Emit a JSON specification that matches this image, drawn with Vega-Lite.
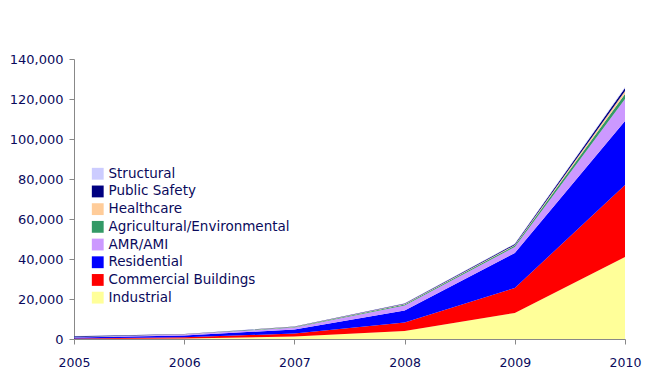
{
  "$schema": "https://vega.github.io/schema/vega-lite/v6.json",
  "width": 551,
  "height": 280,
  "autosize": {"type": "none"},
  "padding": {"left": 74, "top": 59, "right": 32, "bottom": 48},
  "background": "white",
  "config": {
    "view": {"stroke": null},
    "font": "DejaVu Sans"
  },
  "data": {
    "values": [
      {"year": 2005, "segment": "Industrial", "k": 1, "units": 0},
      {"year": 2005, "segment": "Commercial Buildings", "k": 2, "units": 300},
      {"year": 2005, "segment": "Residential", "k": 3, "units": 500},
      {"year": 2005, "segment": "AMR/AMI", "k": 4, "units": 100},
      {"year": 2005, "segment": "Agricultural/Environmental", "k": 5, "units": 50},
      {"year": 2005, "segment": "Healthcare", "k": 6, "units": 50},
      {"year": 2005, "segment": "Public Safety", "k": 7, "units": 400},
      {"year": 2005, "segment": "Structural", "k": 8, "units": 50},
      {"year": 2006, "segment": "Industrial", "k": 1, "units": 200},
      {"year": 2006, "segment": "Commercial Buildings", "k": 2, "units": 700},
      {"year": 2006, "segment": "Residential", "k": 3, "units": 900},
      {"year": 2006, "segment": "AMR/AMI", "k": 4, "units": 400},
      {"year": 2006, "segment": "Agricultural/Environmental", "k": 5, "units": 100},
      {"year": 2006, "segment": "Healthcare", "k": 6, "units": 50},
      {"year": 2006, "segment": "Public Safety", "k": 7, "units": 150},
      {"year": 2006, "segment": "Structural", "k": 8, "units": 50},
      {"year": 2007, "segment": "Industrial", "k": 1, "units": 1200},
      {"year": 2007, "segment": "Commercial Buildings", "k": 2, "units": 1500},
      {"year": 2007, "segment": "Residential", "k": 3, "units": 2000},
      {"year": 2007, "segment": "AMR/AMI", "k": 4, "units": 1000},
      {"year": 2007, "segment": "Agricultural/Environmental", "k": 5, "units": 300},
      {"year": 2007, "segment": "Healthcare", "k": 6, "units": 100},
      {"year": 2007, "segment": "Public Safety", "k": 7, "units": 100},
      {"year": 2007, "segment": "Structural", "k": 8, "units": 100},
      {"year": 2008, "segment": "Industrial", "k": 1, "units": 4000},
      {"year": 2008, "segment": "Commercial Buildings", "k": 2, "units": 4300},
      {"year": 2008, "segment": "Residential", "k": 3, "units": 6000},
      {"year": 2008, "segment": "AMR/AMI", "k": 4, "units": 2500},
      {"year": 2008, "segment": "Agricultural/Environmental", "k": 5, "units": 400},
      {"year": 2008, "segment": "Healthcare", "k": 6, "units": 300},
      {"year": 2008, "segment": "Public Safety", "k": 7, "units": 200},
      {"year": 2008, "segment": "Structural", "k": 8, "units": 200},
      {"year": 2009, "segment": "Industrial", "k": 1, "units": 13000},
      {"year": 2009, "segment": "Commercial Buildings", "k": 2, "units": 12500},
      {"year": 2009, "segment": "Residential", "k": 3, "units": 17500},
      {"year": 2009, "segment": "AMR/AMI", "k": 4, "units": 3000},
      {"year": 2009, "segment": "Agricultural/Environmental", "k": 5, "units": 700},
      {"year": 2009, "segment": "Healthcare", "k": 6, "units": 300},
      {"year": 2009, "segment": "Public Safety", "k": 7, "units": 500},
      {"year": 2009, "segment": "Structural", "k": 8, "units": 200},
      {"year": 2010, "segment": "Industrial", "k": 1, "units": 41000},
      {"year": 2010, "segment": "Commercial Buildings", "k": 2, "units": 36000},
      {"year": 2010, "segment": "Residential", "k": 3, "units": 32000},
      {"year": 2010, "segment": "AMR/AMI", "k": 4, "units": 11000},
      {"year": 2010, "segment": "Agricultural/Environmental", "k": 5, "units": 2500},
      {"year": 2010, "segment": "Healthcare", "k": 6, "units": 1500},
      {"year": 2010, "segment": "Public Safety", "k": 7, "units": 1500},
      {"year": 2010, "segment": "Structural", "k": 8, "units": 500}
    ]
  },
  "mark": {"type": "area", "interpolate": "linear"},
  "encoding": {
    "x": {
      "field": "year",
      "type": "quantitative",
      "scale": {"domain": [2005, 2010], "nice": false, "zero": false},
      "axis": {
        "title": null,
        "values": [2005, 2006, 2007, 2008, 2009, 2010],
        "format": "d",
        "grid": false,
        "domainColor": "#888888",
        "tickColor": "#888888",
        "tickSize": 5,
        "labelFont": "DejaVu Sans",
        "labelFontSize": 12.5,
        "labelColor": "#0a0a5c",
        "labelPadding": 12,
        "labelFlush": false
      }
    },
    "y": {
      "field": "units",
      "type": "quantitative",
      "stack": "zero",
      "scale": {"domain": [0, 140000], "nice": false},
      "axis": {
        "title": null,
        "values": [0, 20000, 40000, 60000, 80000, 100000, 120000, 140000],
        "format": ",d",
        "grid": false,
        "domainColor": "#888888",
        "tickColor": "#888888",
        "tickSize": 5,
        "labelFont": "DejaVu Sans",
        "labelFontSize": 13,
        "labelColor": "#0a0a5c",
        "labelPadding": 6
      }
    },
    "color": {
      "field": "segment",
      "type": "nominal",
      "scale": {
        "domain": ["Structural", "Public Safety", "Healthcare", "Agricultural/Environmental", "AMR/AMI", "Residential", "Commercial Buildings", "Industrial"],
        "range": ["#ccccff", "#000080", "#ffcc99", "#339966", "#cc99ff", "#0000ff", "#ff0000", "#ffff99"]
      },
      "legend": {
        "title": null,
        "orient": "none",
        "legendX": 17,
        "legendY": 108,
        "symbolType": "square",
        "symbolSize": 140,
        "symbolStrokeWidth": 0,
        "labelFont": "DejaVu Sans",
        "labelFontSize": 13.5,
        "labelLimit": 400,
        "labelColor": "#0a0a5c",
        "rowPadding": 2.7,
        "labelOffset": 4
      }
    },
    "order": {"field": "k", "type": "quantitative", "sort": "ascending"}
  }
}
